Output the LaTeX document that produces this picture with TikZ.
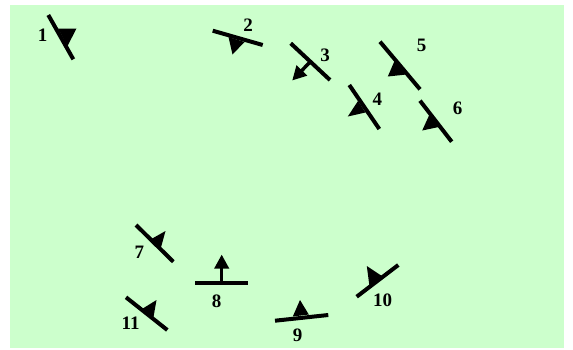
\documentclass[tikz,border=0pt]{standalone}
\usepackage{fontspec}
\setmainfont{Liberation Serif}
\usetikzlibrary{arrows.meta}
\definecolor{bggreen}{RGB}{204,255,204}

\begin{document}
\begin{tikzpicture}[x=1pt, y=-1pt,
    fault/.style={line width=4pt},
    barb/.style={fill=black},
    dipnum/.style={font=\fontsize{19}{21}\selectfont\bfseries, inner sep=0pt},
    dirarrow/.style={line width=3.5pt, -{Triangle[length=14pt, width=14pt]}}
]
\useasboundingbox (0,0) rectangle (573,349);
\fill[bggreen] (10,5) rectangle (564,348);

% upper group
\draw[fault] (48.3,15) -- (73.3,59.3);
\fill[barb] (58,28.5) -- (76.5,28.5) -- (67.5,46) -- cycle;
\node[dipnum] (n1) at (42.7,35) {1};

\draw[fault] (212.7,30.7) -- (262.7,45);
\fill[barb] (228.5,37) -- (244.5,42) -- (232.5,54.5) -- cycle;
\node[dipnum] (n2) at (248,25) {2};

\draw[fault] (290.7,43.3) -- (330,80);
\draw[dirarrow] (310.5,61.5) -- (292.2,80.5);
\node[dipnum] (n3) at (325,55) {3};

\draw[fault] (349.3,85) -- (379.3,129);
\fill[barb] (358,101) -- (365.5,112.5) -- (347.8,116.5) -- cycle;
\node[dipnum] (n4) at (377.3,99.3) {4};

\draw[fault] (380,41.7) -- (420,89.3);
\fill[barb] (394.5,61) -- (406.5,74.5) -- (387.8,76.5) -- cycle;
\node[dipnum] (n5) at (421.7,45) {5};

\draw[fault] (420,100.7) -- (451.7,141.7);
\fill[barb] (429.5,114.5) -- (438.8,127) -- (422.2,130.5) -- cycle;
\node[dipnum] (n6) at (457.7,108.3) {6};

% lower group
\draw[fault] (136,225) -- (173.3,261.7);
\fill[barb] (150.5,239.5) -- (165.5,231) -- (160.5,249.2) -- cycle;
\node[dipnum] (n7) at (139.3,252.7) {7};

\draw[fault] (195,282.7) -- (247.7,282.7);
\draw[dirarrow] (221.7,281) -- (221.7,254.5);
\node[dipnum] (n8) at (216.7,301.7) {8};

\draw[fault] (275,320.7) -- (328.3,315);
\fill[barb] (292.8,316.5) -- (300,300) -- (308.8,314.5) -- cycle;
\node[dipnum] (n9) at (297.7,335) {9};

\draw[fault] (356.7,296.7) -- (398.3,265);
\fill[barb] (369.5,286.5) -- (366.8,266) -- (382.2,276.2) -- cycle;
\node[dipnum] (n10) at (382.7,300.7) {10};

\draw[fault] (126,297.3) -- (167.3,330);
\fill[barb] (141.2,309.5) -- (156.5,300) -- (153.2,318.8) -- cycle;
\node[dipnum] (n11) at (130.7,323.3) {11};
\end{tikzpicture}
\end{document}
